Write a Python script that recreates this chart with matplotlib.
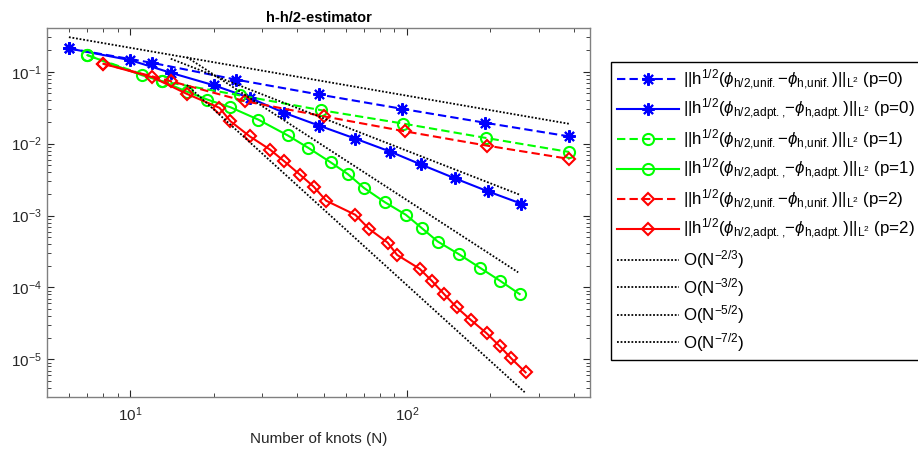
import numpy as np
import matplotlib.pyplot as plt
from matplotlib.ticker import LogLocator, NullFormatter

plt.rcParams['font.family'] = ['Liberation Sans', 'DejaVu Sans']
plt.rcParams['mathtext.fontset'] = 'custom'
plt.rcParams['mathtext.rm'] = 'Liberation Sans'
plt.rcParams['mathtext.it'] = 'Liberation Sans:italic'
plt.rcParams['mathtext.bf'] = 'Liberation Sans:bold'

# uniform refinement, p = 0, 1, 2
n_unif_p0 = [6, 12, 24, 48, 96, 192, 384]
err_unif_p0 = [0.211, 0.133, 0.078, 0.0483, 0.0305, 0.0195, 0.01264]
n_unif_p1 = [7, 13, 25, 49, 97, 193, 385]
err_unif_p1 = [0.170, 0.074, 0.0468, 0.0292, 0.019, 0.0120, 0.00767]
n_unif_p2 = [8, 14, 26, 50, 98, 194, 386]
err_unif_p2 = [0.129, 0.074, 0.0389, 0.024, 0.01486, 0.0094, 0.00613]

# adaptive refinement, p = 0, 1, 2
n_adpt_p0 = [6, 10, 14, 20, 27, 36, 48, 65, 87, 112, 149, 196, 259]
err_adpt_p0 = [0.211, 0.145, 0.0968, 0.065, 0.0434, 0.0268, 0.01787, 0.01175,
               0.00774, 0.00515, 0.00329, 0.00217, 0.00146]
n_adpt_p1 = [7, 11, 13, 16, 19, 23, 29, 37, 44, 53, 61, 70, 83, 99, 113, 129,
             154, 183, 216, 255]
err_adpt_p1 = [0.170, 0.0897, 0.0739, 0.053, 0.041, 0.0321, 0.0216, 0.01306,
               0.00873, 0.00549, 0.00379, 0.00241, 0.00154, 0.001025, 0.00067,
               0.000436, 0.00029, 0.000189, 0.000125, 8.1e-5]
n_adpt_p2 = [8, 12, 16, 21, 23, 27, 32, 36, 41, 46, 51, 65, 73, 85, 92, 111,
             123, 136, 151, 170, 194, 216, 238, 268]
err_adpt_p2 = [0.129, 0.0841, 0.0493, 0.0315, 0.0205, 0.01265, 0.00826,
               0.00568, 0.00371, 0.00252, 0.00161, 0.001025, 0.000649,
               0.000422, 0.000284, 0.000182, 0.000123, 8.1e-5, 5.3e-5,
               3.53e-5, 2.30e-5, 1.53e-5, 1.03e-5, 6.6e-6]

# reference slopes: (exponent, constant, N start, N end)
rates = [(-2/3, 1.0, 6, 384), (-3/2, 7.95, 14, 256),
         (-5/2, 163.6, 16, 252), (-7/2, 1073.0, 16, 266)]
rate_labels = ['O(N$^{-2/3}$)', 'O(N$^{-3/2}$)', 'O(N$^{-5/2}$)', 'O(N$^{-7/2}$)']

lab_unif = (r'$||\mathrm{h}^{1/2}(\mathit{\phi}_{\mathrm{h/2{,}unif{.}}}\mathrm{-}'
            r'\mathit{\phi}_{\mathrm{h{,}unif{.}}})||_{\mathrm{L}^2}$')
lab_adpt = (r'$||\mathrm{h}^{1/2}(\mathit{\phi}_{\mathrm{h/2{,}adpt{.}{,}}}\mathrm{-}'
            r'\mathit{\phi}_{\mathrm{h{,}adpt{.}}})||_{\mathrm{L}^2}$')

fig = plt.figure(figsize=(9.18, 4.57), dpi=100)
ax = fig.add_axes([0.0512, 0.1313, 0.5915, 0.8064])

star = (8, 2, 0)
dash = (4, 2)
kw = dict(lw=1.5, mew=1.5)
ax.loglog(n_unif_p0, err_unif_p0, color='b', ls='--', dashes=dash, marker=star, ms=9,
          label=lab_unif + ' (p=0)', **kw)
ax.loglog(n_adpt_p0, err_adpt_p0, color='b', ls='-', marker=star, ms=9,
          label=lab_adpt + ' (p=0)', **kw)
ax.loglog(n_unif_p1, err_unif_p1, color='#00ff00', ls='--', dashes=dash, marker='o', ms=8,
          mfc='none', label=lab_unif + ' (p=1)', **kw)
ax.loglog(n_adpt_p1, err_adpt_p1, color='#00ff00', ls='-', marker='o', ms=8,
          mfc='none', label=lab_adpt + ' (p=1)', **kw)
ax.loglog(n_unif_p2, err_unif_p2, color='r', ls='--', dashes=dash, marker='D', ms=6.5,
          mfc='none', label=lab_unif + ' (p=2)', **kw)
ax.loglog(n_adpt_p2, err_adpt_p2, color='r', ls='-', marker='D', ms=6.5,
          mfc='none', label=lab_adpt + ' (p=2)', **kw)

for (k, c, n0, n1), lab in zip(rates, rate_labels):
    n = np.array([n0, n1], dtype=float)
    ax.loglog(n, c * n ** k, color='k', ls=':', lw=1.3, dashes=(1, 1), label=lab)

ax.set_xlim(5, 458)
ax.set_ylim(3e-6, 0.4)
ax.xaxis.set_minor_locator(LogLocator(base=10, subs=np.arange(2, 10)))
ax.yaxis.set_minor_locator(LogLocator(base=10, subs=np.arange(2, 10), numticks=20))
ax.yaxis.set_major_locator(LogLocator(base=10, numticks=20))
ax.xaxis.set_minor_formatter(NullFormatter())
ax.yaxis.set_minor_formatter(NullFormatter())

grey = '#262626'
for s in ax.spines.values():
    s.set_color('#808080')
    s.set_linewidth(1.0)
ax.tick_params(which='both', direction='in', top=True, right=True, colors=grey,
               labelsize=11)
ax.tick_params(which='major', length=5)
ax.tick_params(which='minor', length=3)
ax.tick_params(axis='x', pad=6)

ax.set_title('h-h/2-estimator', fontsize=10.5, fontweight='bold', pad=5)
ax.set_xlabel('Number of knots (N)', fontsize=11, color=grey, labelpad=6)

fig.legend(loc='upper left', bbox_to_anchor=(0.666, 0.865), borderaxespad=0,
           fontsize=12.2, handlelength=3.65, handletextpad=0.2, borderpad=0.35,
           labelspacing=0.28, frameon=True, fancybox=False, edgecolor='k',
           framealpha=1)

fig.savefig('out.png', dpi=100)
